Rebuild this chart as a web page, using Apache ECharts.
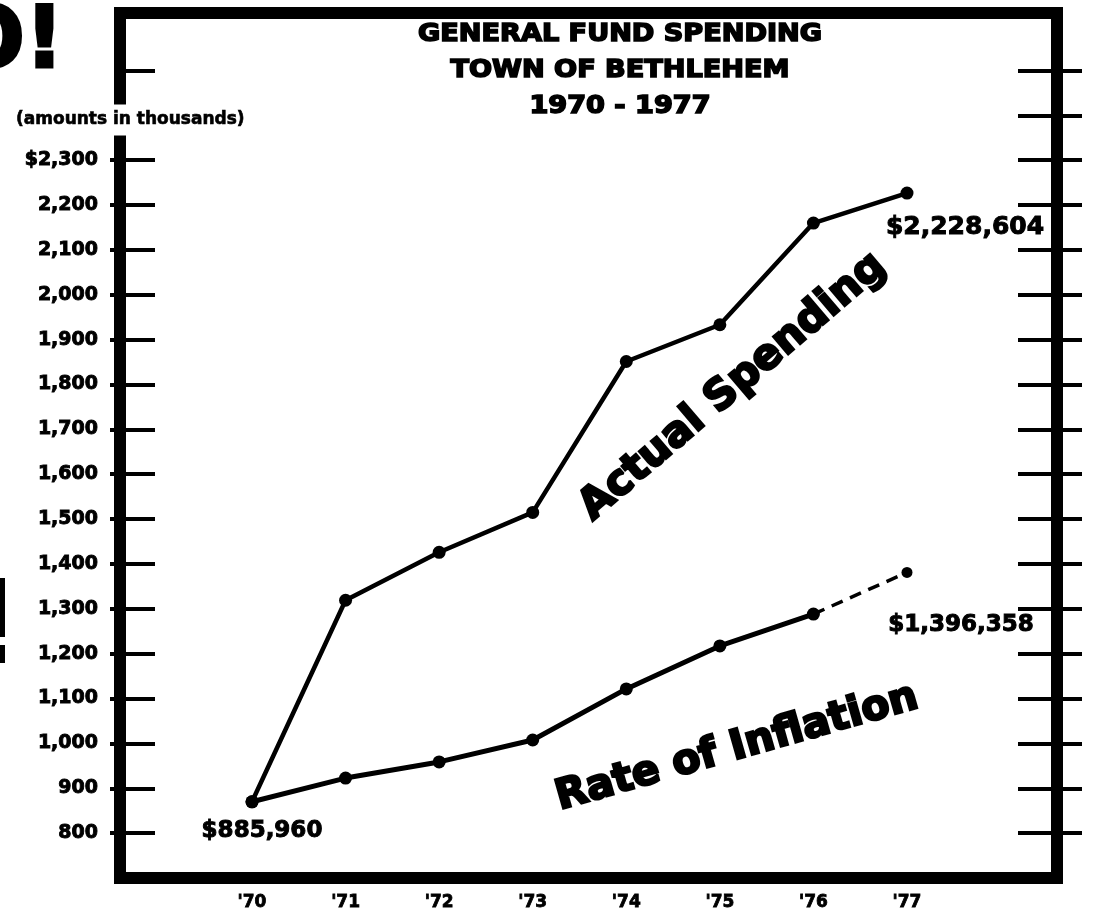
<!DOCTYPE html>
<html>
<head>
<meta charset="utf-8">
<script src="https://cdn.jsdelivr.net/npm/echarts@6/dist/echarts.min.js"></script>
<style>
  html, body { margin: 0; padding: 0; background: #fff; }
  #chart { width: 1095px; height: 911px; }
</style>
</head>
<body>
<div id="chart"></div>
<script>
// values in thousands of dollars
var years = ["'70", "'71", "'72", "'73", "'74", "'75", "'76", "'77"];
var actualSpending = [867, 1317, 1424, 1513, 1850, 1932, 2159, 2226];
var inflationRate = [867, 920, 956, 1005, 1119, 1215, 1286, null];
var inflationProjection = [null, null, null, null, null, null, 1286, 1379];

var tickValues = [800, 900, 1000, 1100, 1200, 1300, 1400, 1500, 1600, 1700, 1800, 1900, 2000, 2100, 2200, 2300, 2400, 2500];
var outerLeftTicks = [800, 900, 1000, 1100, 1200, 1300, 1400, 1500, 1600, 1700, 1800, 1900, 2000, 2100, 2200, 2300];
var labelValues = [800, 900, 1000, 1100, 1200, 1300, 1400, 1500, 1600, 1700, 1800, 1900, 2000, 2100, 2200, 2300];

var startNote = '$885,960';
var actualEndNote = '$2,228,604';
var inflationEndNote = '$1,396,358';

var FONT = '"DejaVu Sans", sans-serif';
var Y_MIN = 700, Y_MAX = 2628;

var myChart = echarts.init(document.getElementById('chart'), null, { renderer: 'canvas' });

// heavy type: bold face plus a thin outline of the same colour
function noteLabel(text, size, dx, dy) {
    return {
        show: true,
        position: 'inside',
        offset: [dx, dy],
        formatter: text,
        color: '#000',
        fontFamily: FONT,
        fontWeight: 'bold',
        fontSize: size,
        textBorderColor: '#000',
        textBorderWidth: 1
    };
}

function fmtThousands(v) {
    var s = String(v).replace(/\B(?=(\d{3})+(?!\d))/g, ',');
    return v === 2300 ? '$' + s : s;
}

function frameAxis(pos, inside, len, ticks, withLabels) {
    return {
        type: 'value',
        gridIndex: 1,
        position: pos,
        min: Y_MIN,
        max: Y_MAX,
        splitLine: { show: false },
        axisLine: { show: false },
        axisTick: {
            show: true,
            inside: inside,
            length: len,
            customValues: ticks,
            lineStyle: { color: '#000', width: 4 }
        },
        axisLabel: withLabels ? {
            show: true,
            customValues: labelValues,
            formatter: fmtThousands,
            margin: 22,
            color: '#000',
            fontFamily: FONT,
            fontWeight: 'bold',
            fontSize: 19,
            textBorderColor: '#000',
            textBorderWidth: 0.9
        } : { show: false }
    };
}

var actualData = actualSpending.map(function (v, i) {
    if (i === 0) return { value: v, label: noteLabel(startNote, 23, 10, 29) };
    if (i === actualSpending.length - 1) return { value: v, label: noteLabel(actualEndNote, 25, 58, 34) };
    return v;
});
var projectionData = inflationProjection.map(function (v, i) {
    if (i === inflationProjection.length - 1) return { value: v, label: noteLabel(inflationEndNote, 23, 54, 53) };
    return v;
});

var option = {
    backgroundColor: '#fff',
    animation: false,
    grid: [
        { left: 252, right: 188, top: 13, bottom: 33 },
        { left: 120, right: 38, top: 13, bottom: 33, show: true, borderWidth: 12, borderColor: '#000', backgroundColor: 'transparent' }
    ],
    xAxis: [
        {
            type: 'category',
            gridIndex: 0,
            data: years,
            boundaryGap: false,
            axisLine: { show: false },
            axisTick: { show: false },
            splitLine: { show: false },
            axisLabel: {
                margin: 17, color: '#000', fontFamily: FONT, fontWeight: 'bold', fontSize: 17,
                textBorderColor: '#000', textBorderWidth: 0.8
            }
        },
        { type: 'value', gridIndex: 1, show: false }
    ],
    yAxis: [
        { type: 'value', gridIndex: 0, min: Y_MIN, max: Y_MAX, show: false },
        frameAxis('left', true, 35, tickValues, true),
        frameAxis('left', false, 10, outerLeftTicks, false),
        frameAxis('right', true, 39, tickValues, false),
        frameAxis('right', false, 25, tickValues, false)
    ],
    series: [
        {
            name: 'Actual Spending',
            type: 'line',
            data: actualData,
            symbol: 'circle',
            symbolSize: 13,
            itemStyle: { color: '#000' },
            lineStyle: { color: '#000', width: 4.5 },
            z: 5
        },
        {
            name: 'Rate of Inflation',
            type: 'line',
            data: inflationRate,
            symbol: 'circle',
            symbolSize: 13,
            itemStyle: { color: '#000' },
            lineStyle: { color: '#000', width: 5 },
            z: 5
        },
        {
            name: 'Inflation projection',
            type: 'line',
            data: projectionData,
            symbol: 'circle',
            symbolSize: 11,
            itemStyle: { color: '#000' },
            lineStyle: { color: '#000', width: 3.5, type: [12, 8] },
            z: 4
        }
    ],
    graphic: [
        {
            type: 'text', x: 620, y: 71, z: 100, scaleX: 1.13,
            style: {
                text: 'GENERAL FUND SPENDING\nTOWN OF BETHLEHEM\n1970 - 1977',
                align: 'center', verticalAlign: 'middle', lineHeight: 36,
                fill: '#000', stroke: '#000', lineWidth: 1.6,
                font: 'bold 24px ' + FONT
            }
        },
        {
            type: 'text', x: 12, y: 120, z: 100,
            style: {
                text: '(amounts in thousands)',
                align: 'left', verticalAlign: 'middle',
                fill: '#000', stroke: '#000', lineWidth: 0.6,
                font: 'bold 17px ' + FONT,
                backgroundColor: '#fff', padding: [7, 4]
            }
        },
        {
            type: 'text', x: 733, y: 387, z: 100, rotation: 40.5 * Math.PI / 180,
            style: {
                text: 'Actual Spending', align: 'center', verticalAlign: 'middle',
                fill: '#000', stroke: '#000', lineWidth: 2.5,
                font: 'bold 42px ' + FONT
            }
        },
        {
            type: 'text', x: 737, y: 748, z: 100, rotation: 15.9 * Math.PI / 180,
            style: {
                text: 'Rate of Inflation', align: 'center', verticalAlign: 'middle',
                fill: '#000', stroke: '#000', lineWidth: 2.5,
                font: 'bold 41px ' + FONT
            }
        },
        {
            type: 'text', x: 64, y: 45, z: 100,
            style: {
                text: 'O!', align: 'right', verticalAlign: 'middle',
                fill: '#000', stroke: '#000', lineWidth: 3,
                font: 'bold 86px ' + FONT
            }
        },
        { type: 'rect', shape: { x: 0, y: 578, width: 5, height: 59 }, style: { fill: '#000' } },
        { type: 'rect', shape: { x: 0, y: 645, width: 5, height: 18 }, style: { fill: '#000' } }
    ]
};

myChart.setOption(option);
</script>
</body>
</html>
